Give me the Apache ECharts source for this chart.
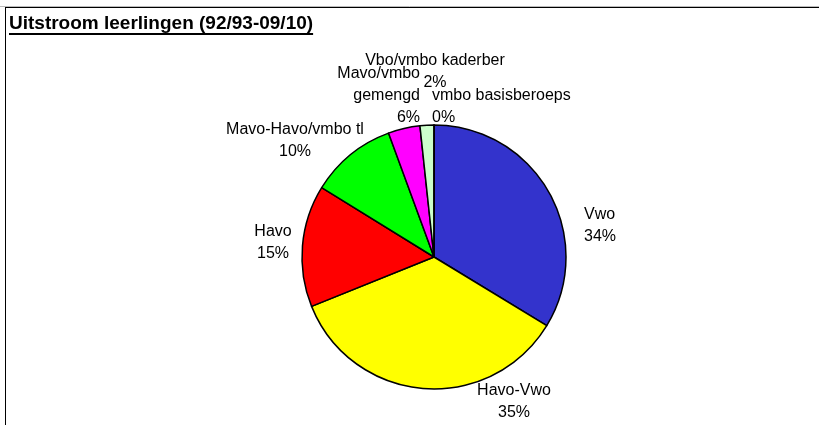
<!DOCTYPE html>
<html>
<head>
<meta charset="utf-8">
<title>Uitstroom leerlingen</title>
<script src="https://cdn.jsdelivr.net/npm/echarts@6/dist/echarts.min.js"></script>
<style>
	html, body { margin: 0; padding: 0; background: #fff; }
	#mychart { width: 819px; height: 425px; }
</style>
</head>
<body>
<div id="mychart"></div>
<script>
var chartTitle = 'Uitstroom leerlingen (92/93-09/10)';
// clockwise from 12 o'clock
var categories = ['Vwo', 'Havo-Vwo', 'Havo', 'Mavo-Havo/vmbo tl', 'Mavo/vmbo\ngemengd', 'Vbo/vmbo kaderber', 'vmbo basisberoeps'];
// share of the circle as drawn
var shares = [33.7, 35.2, 14.9, 10.6, 3.9, 1.7, 0];
// percentages as printed on the labels
var printedPct = [34, 35, 15, 10, 6, 2, 0];
var sliceColors = ['#3333CC', '#FFFF00', '#FF0000', '#00FF00', '#FF00FF', '#CCFFCC', '#FFFFFF'];

// where the labels sit (x, y of the anchor, text alignment), same order as categories
var labelSpots = [
	[584, 226, 'left'],
	[514, 402, 'center'],
	[273, 243, 'center'],
	[295, 141, 'center'],
	[420, 96, 'right'],
	[435, 72, 'center'],
	[432, 107, 'left']
];

var pieChart = {
	titleFont : 'bold 19px "Liberation Sans"',

	initial : function initial() {
		this.drawChart();
	},

	textWidth : function textWidth(text, font) {
		var ctx = document.createElement('canvas').getContext('2d');
		ctx.font = font;
		return ctx.measureText(text).width;
	},

	drawChart : function drawChart() {
		var data = [];
		for (var i = 0; i < categories.length; i++) {
			data.push({
				name : categories[i],
				value : shares[i],
				pct : printedPct[i],
				itemStyle : { color : sliceColors[i] }
			});
		}

		var titleW = this.textWidth(chartTitle, this.titleFont);

		var option = {
			animation : false,
			backgroundColor : '#fff',
			title : {
				text : chartTitle,
				left : 9,
				top : 14,
				padding : 0,
				textStyle : {
					fontFamily : 'Liberation Sans',
					fontSize : 19,
					fontWeight : 'bold',
					color : '#000'
				}
			},
			graphic : [
				{ type : 'line', shape : { x1 : 0, y1 : 6.5, x2 : 819, y2 : 6.5 }, style : { stroke : '#bbb', lineWidth : 1 } },
				{ type : 'line', shape : { x1 : 5, y1 : 7.5, x2 : 819, y2 : 7.5 }, style : { stroke : '#000', lineWidth : 1 } },
				{ type : 'line', shape : { x1 : 5.5, y1 : 7, x2 : 5.5, y2 : 425 }, style : { stroke : '#000', lineWidth : 1 } },
				// title underline
				{ type : 'line', shape : { x1 : 9, y1 : 34, x2 : 9 + titleW, y2 : 34 }, style : { stroke : '#000', lineWidth : 2 } }
			],
			series : [
				{
					type : 'pie',
					center : [434, 257],
					radius : 132,
					startAngle : 90,
					clockwise : true,
					avoidLabelOverlap : false,
					itemStyle : { borderColor : '#000', borderWidth : 1.5 },
					label : {
						show : true,
						position : 'outside',
						fontFamily : 'Liberation Sans',
						fontSize : 16,
						lineHeight : 22,
						color : '#000',
						formatter : function(p) {
							return p.name + '\n' + p.data.pct + '%';
						}
					},
					labelLine : { show : false },
					labelLayout : function(params) {
						var s = labelSpots[params.dataIndex];
						return { x : s[0], y : s[1], align : s[2], verticalAlign : 'middle', hideOverlap : false };
					},
					emphasis : { disabled : true },
					data : data
				}
			]
		};

		var myChart = echarts.init(document.getElementById('mychart'));
		myChart.setOption(option);
	}
};

pieChart.initial();
</script>
</body>
</html>
